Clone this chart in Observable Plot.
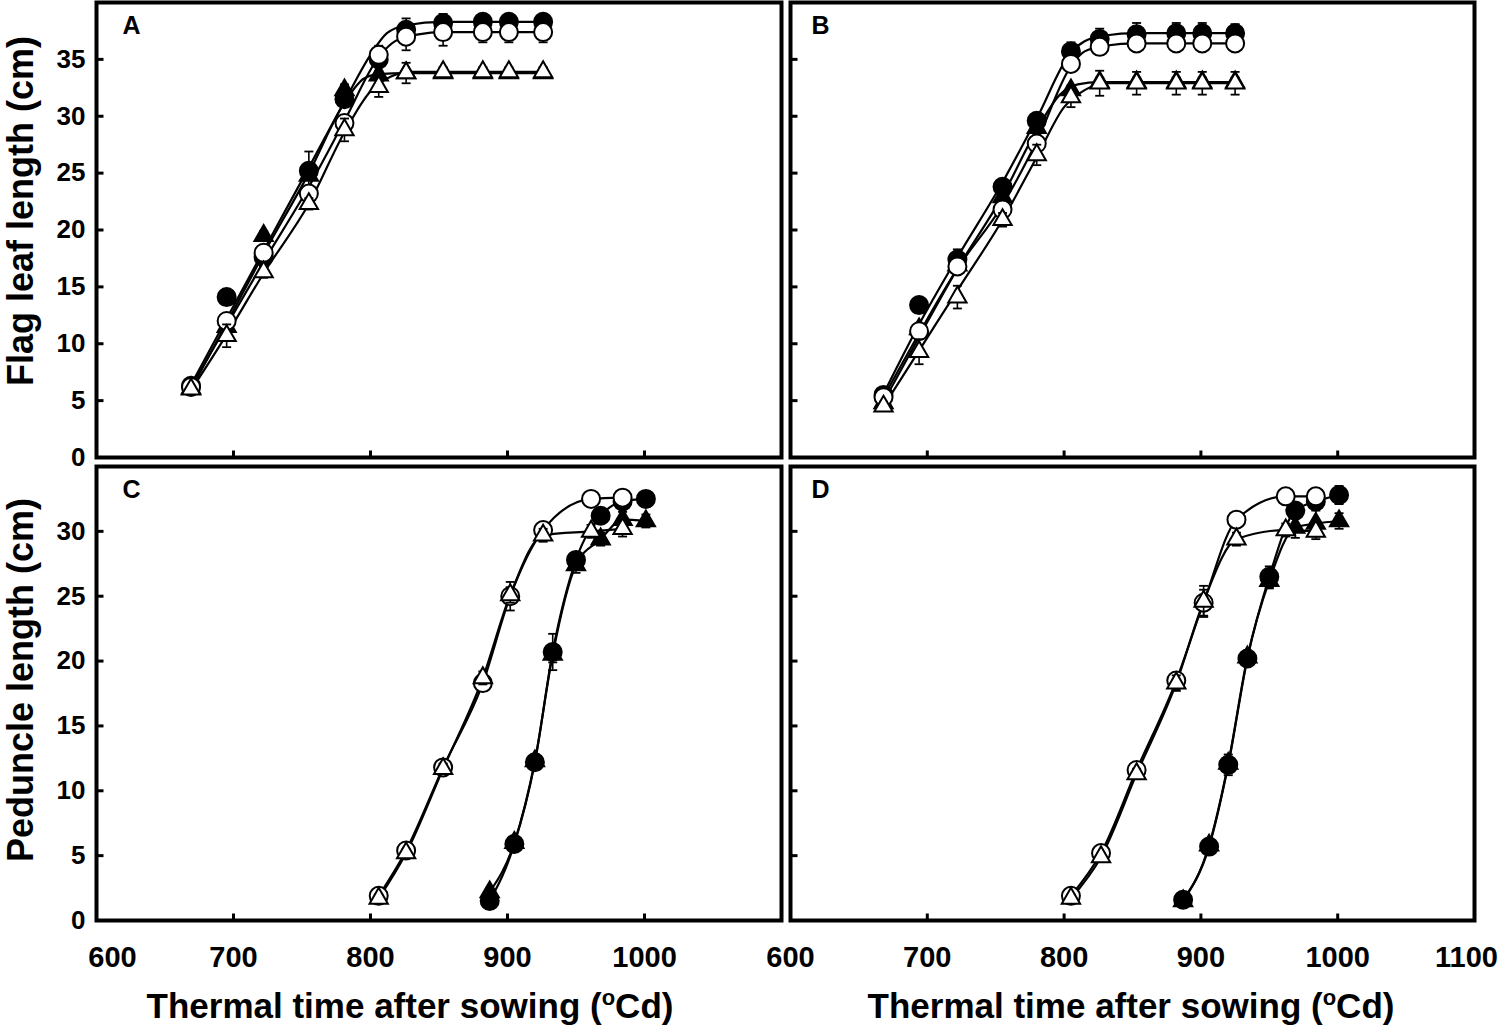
<!DOCTYPE html>
<html><head><meta charset="utf-8">
<script src="https://cdn.jsdelivr.net/npm/d3@7"></script>
<script src="https://cdn.jsdelivr.net/npm/@observablehq/plot@0.6"></script>
<style>
body{margin:0;background:#fff;}
#fig{position:relative;width:1500px;height:1027px;background:#fff;overflow:hidden;}
#fig svg.plotp{position:absolute;}
#titles{position:absolute;left:0;top:0;pointer-events:none;}
</style></head><body><div id="fig"></div>
<script>
// ---------- Tick values ----------
const xTicksAll = [600, 700, 800, 900, 1000, 1100];
const xLabelsLeft = [700, 800, 900, 1000];
const xLabelsRight = [600, 700, 800, 900, 1000];
const yTicksTop = [0, 5, 10, 15, 20, 25, 30, 35];
const yTicksBottom = [0, 5, 10, 15, 20, 25, 30];

// ---------- Panel A: flag leaf length (measured points) ----------
const xA = [669, 695, 722, 755, 781, 806, 826, 853, 882, 901, 926];
const aFC = [6.3, 14.1, 17.6, 25.2, 31.5, 35.0, 37.6, 38.2, 38.3, 38.3, 38.3];
const aFCse = [0.2, 0.3, 0.4, 1.7, 0.6, 0.4, 1.0, 0.8, 0.5, 0.5, 0.5];
const aOC = [6.2, 12.0, 18.0, 23.2, 29.4, 35.4, 37.0, 37.4, 37.4, 37.4, 37.4];
const aOCse = [0.3, 0.5, 0.4, 0.5, 0.6, 0.8, 1.2, 1.2, 0.9, 0.9, 0.9];
const aFT = [6.1, 11.5, 19.5, 24.8, 32.3, 33.6, 33.8, 33.8, 33.8, 33.8, 33.8];
const aFTse = [0.2, 0.5, 0.4, 0.4, 0.5, 0.4, 0.3, 0.3, 0.3, 0.3, 0.3];
const aOT = [6.0, 10.7, 16.3, 22.3, 28.8, 32.6, 33.8, 33.9, 33.9, 33.9, 33.9];
const aOTse = [0.3, 1.0, 0.5, 0.5, 1.0, 0.9, 0.9, 0.4, 0.4, 0.4, 0.4];
// Panel A fitted curves
const aFCfitX = [669, 695, 722, 755, 781, 800, 812, 826, 853, 926];
const aFCfitY = [6.4, 12.2, 18.2, 25.5, 31.3, 35.4, 37.3, 38.0, 38.3, 38.3];
const aOCfitX = [669, 695, 722, 755, 781, 806, 818, 835, 853, 926];
const aOCfitY = [6.2, 11.6, 17.2, 23.8, 29.6, 35.2, 36.6, 37.2, 37.4, 37.4];
const aFTfitX = [669, 695, 722, 755, 781, 795, 806, 826, 926];
const aFTfitY = [6.0, 11.8, 17.9, 25.0, 31.2, 33.3, 33.7, 33.8, 33.8];
const aOTfitX = [669, 695, 722, 755, 781, 800, 815, 830, 926];
const aOTfitY = [5.9, 10.8, 16.2, 22.3, 28.6, 32.2, 33.5, 33.9, 33.9];

// ---------- Panel B: flag leaf length ----------
const xB = [668, 694, 722, 755, 780, 805, 826, 853, 882, 901, 925];
const bFC = [5.5, 13.4, 17.4, 23.8, 29.6, 35.7, 36.8, 37.2, 37.3, 37.3, 37.3];
const bFCse = [0.3, 0.4, 0.9, 0.5, 0.6, 0.8, 0.9, 1.0, 0.9, 0.9, 0.8];
const bOC = [5.3, 11.1, 16.8, 21.8, 27.6, 34.6, 36.1, 36.4, 36.4, 36.4, 36.4];
const bOCse = [0.3, 0.5, 0.5, 0.6, 0.7, 0.6, 0.6, 0.5, 0.5, 0.5, 0.5];
const bFT = [4.8, 11.3, 16.9, 22.9, 29.0, 32.3, 33.0, 33.0, 33.0, 33.0, 33.0];
const bFTse = [0.3, 0.4, 0.4, 0.4, 0.5, 0.4, 0.4, 0.4, 0.4, 0.4, 0.4];
const bOT = [4.5, 9.3, 14.1, 20.9, 26.6, 31.7, 32.9, 32.9, 32.9, 32.9, 32.9];
const bOTse = [0.4, 1.1, 1.0, 0.6, 0.9, 0.9, 1.1, 1.0, 1.0, 1.0, 1.0];
// Panel B fitted curves
const bFCfitX = [668, 694, 722, 755, 780, 805, 815, 830, 853, 925];
const bFCfitY = [5.6, 11.7, 17.6, 24.2, 29.8, 35.6, 36.6, 37.1, 37.3, 37.3];
const bOCfitX = [668, 694, 722, 755, 780, 805, 815, 830, 853, 925];
const bOCfitY = [5.3, 10.9, 16.6, 22.2, 27.8, 34.4, 35.7, 36.2, 36.4, 36.4];
const bFTfitX = [668, 694, 722, 755, 780, 797, 810, 826, 925];
const bFTfitY = [4.9, 10.6, 16.6, 23.0, 28.8, 31.9, 32.8, 33.0, 33.0];
const bOTfitX = [668, 694, 722, 755, 780, 800, 815, 830, 925];
const bOTfitY = [4.5, 9.4, 14.7, 20.9, 26.4, 30.8, 32.3, 32.9, 32.9];

// ---------- Panel C: peduncle length ----------
const xCopen = [806, 826, 853, 882, 902, 926, 961, 984];
const cOC = [1.9, 5.4, 11.8, 18.3, 25.0, 30.1, 32.5, 32.6];
const cOCse = [0.3, 0.4, 0.4, 0.6, 1.1, 0.5, 0.4, 0.4];
const cOT = [1.7, 5.2, 11.7, 18.7, 25.1, 29.7, 30.0, 30.2];
const cOTse = [0.3, 0.3, 0.4, 0.5, 0.6, 0.5, 0.5, 0.6];
const xCfill = [887, 905, 920, 933, 950, 968, 984, 1001];
const cFC = [1.5, 5.9, 12.2, 20.7, 27.8, 31.2, 32.3, 32.5];
const cFCse = [0.3, 0.4, 0.6, 1.4, 0.6, 0.5, 0.5, 0.6];
const cFT = [2.2, 6.0, 12.3, 20.5, 27.4, 29.4, 30.9, 30.8];
const cFTse = [0.3, 0.4, 0.5, 0.6, 0.6, 0.5, 0.6, 0.5];

// ---------- Panel D: peduncle length ----------
const xDopen = [805, 827, 853, 882, 902, 926, 962, 984];
const dOC = [1.9, 5.2, 11.6, 18.5, 24.5, 30.9, 32.7, 32.7];
const dOCse = [0.3, 0.4, 0.5, 0.6, 1.0, 0.4, 0.4, 0.5];
const dOT = [1.7, 4.9, 11.3, 18.3, 24.6, 29.4, 30.1, 30.0];
const dOTse = [0.3, 0.3, 0.4, 0.6, 1.2, 0.5, 0.5, 0.6];
const xDfill = [887, 906, 920, 934, 950, 969, 984, 1001];
const dFC = [1.6, 5.7, 12.0, 20.2, 26.5, 31.6, 32.3, 32.8];
const dFCse = [0.3, 0.4, 0.8, 0.5, 0.8, 0.5, 0.5, 0.7];
const dFT = [1.5, 5.8, 12.1, 20.3, 26.2, 30.3, 30.6, 30.8];
const dFTse = [0.3, 0.4, 0.5, 0.5, 0.6, 0.8, 1.0, 0.6];

// ---------- helpers ----------
const FONT = "'Liberation Sans', Arial, Helvetica, sans-serif";
const fmt = d3.format("d");
const tickRight = {draw(ctx) { ctx.moveTo(0, 0); ctx.lineTo(7, 0); }};
const tickUp = {draw(ctx) { ctx.moveTo(0, 0); ctx.lineTo(0, -7); }};
const capSym = {draw(ctx) { ctx.moveTo(-4.5, 0); ctx.lineTo(4.5, 0); }};

const markerStyle = {
  FC: {symbol: "circle", r: 9, fill: "black"},
  FT: {symbol: "triangle", r: 6.8, fill: "black"},
  OC: {symbol: "circle", r: 9, fill: "white"},
  OT: {symbol: "triangle", r: 6.8, fill: "white"}
};

function rows(key, xs, ys, se) {
  return xs.map((x, i) => ({key, x, y: ys[i], se: se[i]}));
}
function pts(xs, ys) {
  return xs.map((x, i) => ({x, y: ys[i]}));
}

function panel(cfg) {
  const marks = [];
  marks.push(Plot.frame({stroke: "black", strokeWidth: 4}));
  marks.push(Plot.dot(cfg.yTicks, {y: d => d, frameAnchor: "left", symbol: tickRight, stroke: "black", strokeWidth: 3}));
  marks.push(Plot.dot(xTicksAll, {x: d => d, frameAnchor: "bottom", symbol: tickUp, stroke: "black", strokeWidth: 3}));
  if (cfg.yLabels) {
    marks.push(Plot.axisY(cfg.yTicks, {anchor: "left", tickSize: 0, tickPadding: 11, tickFormat: fmt, fontSize: 26, fontWeight: "bold", fontFamily: FONT, label: null}));
  }
  if (cfg.xLabels) {
    marks.push(Plot.axisX(cfg.xLabels, {anchor: "bottom", tickSize: 0, tickPadding: 26, tickFormat: fmt, fontSize: 29, fontWeight: "bold", fontFamily: FONT, label: null}));
  }
  if (cfg.xExtra) {
    marks.push(Plot.text([cfg.xExtra.value], {x: d => d, text: d => fmt(d), frameAnchor: "bottom", dy: 26, dx: cfg.xExtra.dx, lineAnchor: "top", fontSize: 29, fontWeight: "bold", fontFamily: FONT}));
  }
  const all = cfg.series;
  const fits = cfg.fits || all;
  for (const f of fits) {
    marks.push(Plot.line(f, {x: "x", y: "y", curve: "monotone-x", stroke: "black", strokeWidth: 2.2}));
  }
  for (const s of all) {
    const st = markerStyle[s[0].key];
    marks.push(Plot.ruleX(s, {x: "x", y1: d => d.y - d.se, y2: d => d.y + d.se, stroke: "black", strokeWidth: 1.6}));
    marks.push(Plot.dot(s, {x: "x", y: d => d.y + d.se, symbol: capSym, stroke: "black", strokeWidth: 1.8}));
    marks.push(Plot.dot(s, {x: "x", y: d => d.y - d.se, symbol: capSym, stroke: "black", strokeWidth: 1.8}));
    marks.push(Plot.dot(s, {x: "x", y: "y", symbol: st.symbol, r: st.r, fill: st.fill, stroke: "black", strokeWidth: 2}));
  }
  marks.push(Plot.text([cfg.letter], {frameAnchor: "top-left", dx: cfg.letterDx, dy: 14, text: d => d, textAnchor: "start", lineAnchor: "top", fontSize: 25, fontWeight: "bold", fontFamily: FONT}));

  const svg = Plot.plot({
    width: cfg.width, height: cfg.height,
    marginLeft: cfg.mL, marginRight: cfg.mR, marginTop: cfg.mT, marginBottom: cfg.mB,
    x: {domain: [600, 1100], axis: null},
    y: {domain: cfg.yDomain, axis: null},
    style: {fontFamily: FONT, background: "transparent", overflow: "visible", color: "black", maxWidth: "none"},
    marks
  });
  svg.classList.add("plotp");
  svg.style.position = "absolute";
  svg.style.left = cfg.left + "px";
  svg.style.top = cfg.top + "px";
  document.getElementById("fig").appendChild(svg);
}

panel({left: 0, top: 0, width: 790, height: 470, mL: 96, mR: 9, mT: 2, mB: 13,
  yDomain: [0, 40], yTicks: yTicksTop, yLabels: true, letter: "A", letterDx: 26,
  series: [rows("FC", xA, aFC, aFCse), rows("FT", xA, aFT, aFTse), rows("OC", xA, aOC, aOCse), rows("OT", xA, aOT, aOTse)],
  fits: [pts(aFCfitX, aFCfitY), pts(aFTfitX, aFTfitY), pts(aOCfitX, aOCfitY), pts(aOTfitX, aOTfitY)]});

panel({left: 782, top: 0, width: 718, height: 470, mL: 8, mR: 26, mT: 2, mB: 13,
  yDomain: [0, 40], yTicks: yTicksTop, yLabels: false, letter: "B", letterDx: 21,
  series: [rows("FC", xB, bFC, bFCse), rows("FT", xB, bFT, bFTse), rows("OC", xB, bOC, bOCse), rows("OT", xB, bOT, bOTse)],
  fits: [pts(bFCfitX, bFCfitY), pts(bFTfitX, bFTfitY), pts(bOCfitX, bOCfitY), pts(bOTfitX, bOTfitY)]});

panel({left: 0, top: 460, width: 790, height: 567, mL: 96, mR: 9, mT: 6, mB: 107,
  yDomain: [0, 35], yTicks: yTicksBottom, yLabels: true, xLabels: xLabelsLeft, xExtra: {value: 600, dx: 16}, letter: "C", letterDx: 26,
  series: [rows("FC", xCfill, cFC, cFCse), rows("FT", xCfill, cFT, cFTse), rows("OC", xCopen, cOC, cOCse), rows("OT", xCopen, cOT, cOTse)]});

panel({left: 782, top: 460, width: 718, height: 567, mL: 8, mR: 26, mT: 6, mB: 107,
  yDomain: [0, 35], yTicks: yTicksBottom, yLabels: false, xLabels: xLabelsRight, xExtra: {value: 1100, dx: -8}, letter: "D", letterDx: 21,
  series: [rows("FC", xDfill, dFC, dFCse), rows("FT", xDfill, dFT, dFTse), rows("OC", xDopen, dOC, dOCse), rows("OT", xDopen, dOT, dOTse)]});

// ---------- titles ----------
const NS = "http://www.w3.org/2000/svg";
const tsvg = document.createElementNS(NS, "svg");
tsvg.setAttribute("id", "titles");
tsvg.setAttribute("width", 1500);
tsvg.setAttribute("height", 1027);
tsvg.setAttribute("font-family", FONT);
tsvg.setAttribute("font-weight", "bold");
function yTitle(label, cy) {
  const t = document.createElementNS(NS, "text");
  t.setAttribute("transform", `translate(33,${cy}) rotate(-90)`);
  t.setAttribute("text-anchor", "middle");
  t.setAttribute("font-size", 36);
  t.textContent = label;
  tsvg.appendChild(t);
}
function xTitle(cx) {
  const t = document.createElementNS(NS, "text");
  t.setAttribute("x", cx);
  t.setAttribute("y", 1018);
  t.setAttribute("text-anchor", "middle");
  t.setAttribute("font-size", 35);
  const a = document.createElementNS(NS, "tspan");
  a.textContent = "Thermal time after sowing (";
  const b = document.createElementNS(NS, "tspan");
  b.setAttribute("dy", -13); b.setAttribute("font-size", 22); b.textContent = "o";
  const c = document.createElementNS(NS, "tspan");
  c.setAttribute("dy", 13); c.textContent = "Cd)";
  t.append(a, b, c);
  tsvg.appendChild(t);
}
yTitle("Flag leaf length (cm)", 211);
yTitle("Peduncle length (cm)", 680);
xTitle(410);
xTitle(1131);
document.getElementById("fig").appendChild(tsvg);
</script></body></html>
